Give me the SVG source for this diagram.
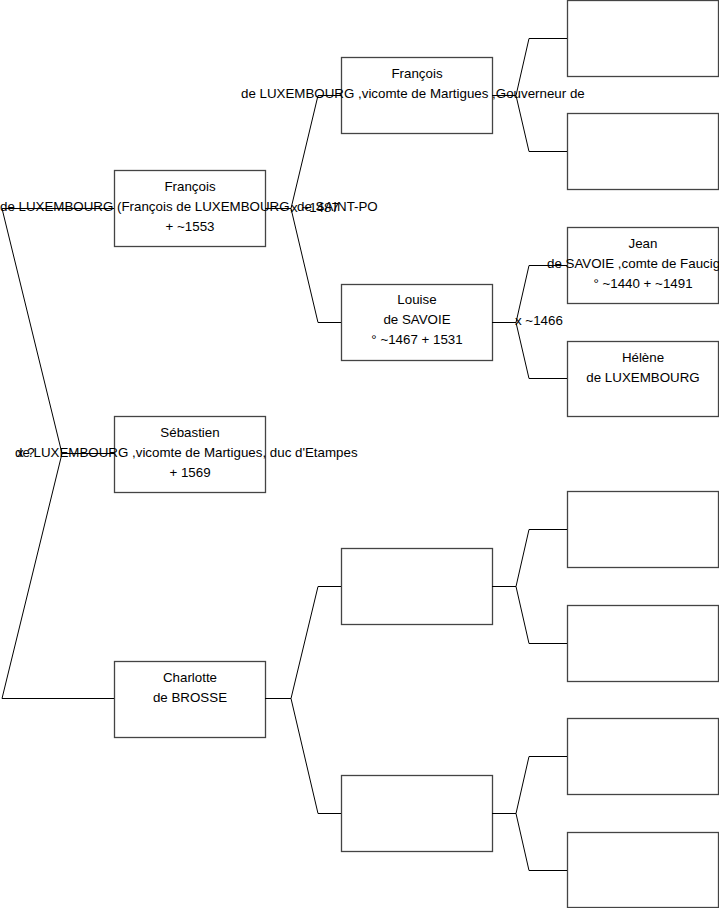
<svg xmlns="http://www.w3.org/2000/svg" width="719" height="908" viewBox="0 0 719 908">
<style>
.box{fill:#fff;stroke:#444;stroke-width:1.3}
.t{font-family:"Liberation Sans",Arial,sans-serif;font-size:13.33px;fill:#000}
.c{text-anchor:middle}
.ln{fill:none;stroke:#000;stroke-width:1}
</style>
<rect width="719" height="908" fill="#fff"/>
<g id="n-francois1">
<rect class="box" x="114.5" y="170.5" width="151" height="76"/>
<text class="t c" x="190" y="191">François</text>
<text class="t" x="0" y="211">de LUXEMBOURG (François de LUXEMBOURG, de SAINT-PO</text>
<text class="t c" x="190" y="231">+ ~1553</text>
</g>
<g id="n-sebastien">
<rect class="box" x="114.5" y="416.5" width="151" height="76"/>
<text class="t c" x="190" y="437">Sébastien</text>
<text class="t" x="15" y="457">de LUXEMBOURG ,vicomte de Martigues, duc d'Etampes</text>
<text class="t c" x="190" y="477">+ 1569</text>
</g>
<g id="n-charlotte">
<rect class="box" x="114.5" y="661.5" width="151" height="76"/>
<text class="t c" x="190" y="682">Charlotte</text>
<text class="t c" x="190" y="702">de BROSSE</text>
</g>
<g id="n-francois2">
<rect class="box" x="341.5" y="57.5" width="151" height="76"/>
<text class="t c" x="417" y="78">François</text>
<text class="t" x="241" y="98">de LUXEMBOURG ,vicomte de Martigues ,Gouverneur de</text>
</g>
<g id="n-louise">
<rect class="box" x="341.5" y="284.5" width="151" height="76"/>
<text class="t c" x="417" y="304">Louise</text>
<text class="t c" x="417" y="324">de SAVOIE</text>
<text class="t c" x="417" y="344">° ~1467 + 1531</text>
</g>
<g id="n-empty2a"><rect class="box" x="341.5" y="548.5" width="151" height="76"/></g>
<g id="n-empty2b"><rect class="box" x="341.5" y="775.5" width="151" height="76"/></g>
<g id="n-empty3a"><rect class="box" x="567.5" y="0.5" width="151" height="76"/></g>
<g id="n-empty3b"><rect class="box" x="567.5" y="113.5" width="151" height="76"/></g>
<g id="n-jean">
<rect class="box" x="567.5" y="227.5" width="151" height="76"/>
<text class="t c" x="643" y="248">Jean</text>
<text class="t" x="547" y="268">de SAVOIE ,comte de Faucigny</text>
<text class="t c" x="643" y="288">° ~1440 + ~1491</text>
</g>
<g id="n-helene">
<rect class="box" x="567.5" y="341.5" width="151" height="75"/>
<text class="t c" x="643" y="362">Hélène</text>
<text class="t c" x="643" y="382">de LUXEMBOURG</text>
</g>
<g id="n-empty3e"><rect class="box" x="567.5" y="491.5" width="151" height="76"/></g>
<g id="n-empty3f"><rect class="box" x="567.5" y="605.5" width="151" height="76"/></g>
<g id="n-empty3g"><rect class="box" x="567.5" y="718.5" width="151" height="76"/></g>
<g id="n-empty3h"><rect class="box" x="567.5" y="832.5" width="151" height="75"/></g>
<g id="connectors">
<path class="ln" d="M114,208.5 H2 L62,453.5 L2,698.5 H114 M62,453.5 H114"/>
<path class="ln" d="M265,208.5 H291 L318,95.5 H341 M291,208.5 L318,322.5 H341"/>
<path class="ln" d="M265,698.5 H291 L318,586.5 H341 M291,698.5 L318,813.5 H341"/>
<path class="ln" d="M492,95.5 H516 L529,38.5 H567 M516,95.5 L529,151.5 H567"/>
<path class="ln" d="M492,322.5 H516 L529,265.5 H567 M516,322.5 L529,378.5 H567"/>
<path class="ln" d="M492,586.5 H516 L529,529.5 H567 M516,586.5 L529,643.5 H567"/>
<path class="ln" d="M492,813.5 H516 L529,756.5 H567 M516,813.5 L529,870.5 H567"/>
<text class="t" x="17" y="457">x ?</text>
<text class="t" x="291" y="212">x ~1487</text>
<text class="t" x="515" y="325">x ~1466</text>
</g>
</svg>
